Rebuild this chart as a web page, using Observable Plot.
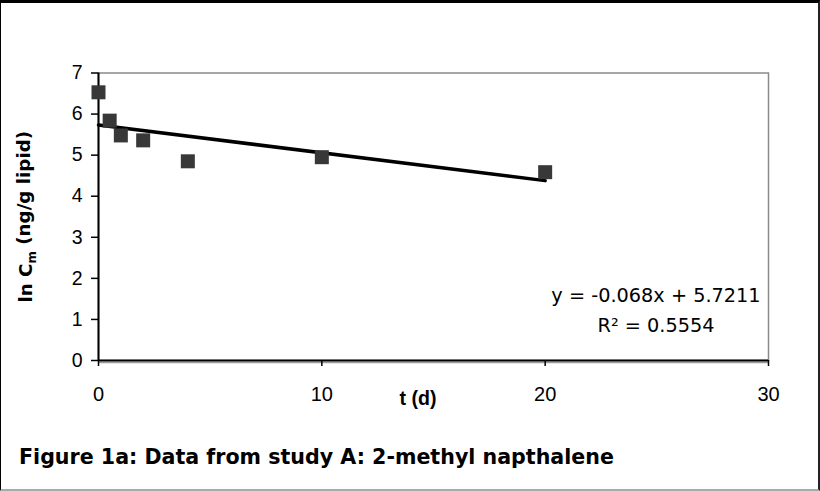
<!DOCTYPE html>
<html><head><meta charset="utf-8">
<script src="https://cdn.jsdelivr.net/npm/d3@7"></script>
<script src="https://cdn.jsdelivr.net/npm/@observablehq/plot@0.6"></script>
<style>
html,body{margin:0;padding:0;background:#fff;}
#wrap{position:relative;width:820px;height:491px;overflow:hidden;background:#fff;}
#frame{position:absolute;left:0;top:0;width:820px;height:491px;box-sizing:border-box;border-top:3px solid #000;border-left:1px solid #000;border-right:2px solid #222;border-bottom:2px solid #aaa;pointer-events:none;}
#chart{position:absolute;left:0;top:0;}
#caption{position:absolute;left:19px;top:447px;font-family:"DejaVu Sans";font-weight:bold;font-size:20.6px;line-height:1;white-space:nowrap;color:#000;}
</style></head>
<body><div id="wrap"><div id="chart"></div><div id="caption"></div><div id="frame"></div></div>
<script>
const days = [0, 0.5, 1, 2, 4, 10, 20];
const lnCm = [6.53, 5.84, 5.48, 5.36, 4.85, 4.95, 4.585];
const xTicks = [0, 10, 20, 30];
const yTicks = [0, 1, 2, 3, 4, 5, 6, 7];
const xLabel = "t (d)";
const yLabel = "ln Cm (ng/g lipid)";
const equationText = "y = -0.068x + 5.7211";
const r2Text = "R\u00B2 = 0.5554";
const captionText = "Figure 1a: Data from study A: 2-methyl napthalene";

const points = days.map((t, i) => ({t, v: lnCm[i]}));

const plot = Plot.plot({
  width: 820,
  height: 430,
  marginLeft: 98,
  marginRight: 52,
  marginTop: 72.5,
  marginBottom: 70,
  style: {background: "transparent", overflow: "visible", color: "#000"},
  x: {domain: [0, 30]},
  y: {domain: [0, 7]},
  marks: [
    Plot.frame({stroke: "#8a8a8a", strokeWidth: 1.5}),
    Plot.ruleY([0], {stroke: "#9a9a9a", strokeWidth: 1.5, dy: 2}),
    Plot.ruleY([0], {stroke: "#000", strokeWidth: 2}),
    Plot.ruleX([0], {stroke: "#000", strokeWidth: 2}),
    Plot.axisX({ticks: xTicks, tickSize: 6, tickPadding: 20, tickFormat: d => String(d), stroke: "#000", strokeWidth: 1.5, fontSize: 20, fontFamily: "Liberation Sans", label: null}),
    Plot.axisY({ticks: yTicks, tickSize: 7, tickPadding: 9, tickFormat: d => String(d), stroke: "#000", strokeWidth: 1.5, fontSize: 19.5, fontFamily: "Liberation Sans", label: null}),
    Plot.linearRegressionY(points, {x: "t", y: "v", ci: 0, stroke: "#000", strokeWidth: 3.5}),
    Plot.dot(points, {x: "t", y: "v", symbol: "square", r: 7.9, fill: "#383838", stroke: "none"}),
    Plot.text([equationText], {frameAnchor: "bottom-right", textAnchor: "middle", dx: -112.5, dy: -59, fontSize: 19.3, fontFamily: "DejaVu Sans", fill: "#000"}),
    Plot.text([r2Text], {frameAnchor: "bottom-right", textAnchor: "middle", dx: -112.5, dy: -29, fontSize: 19.3, fontFamily: "DejaVu Sans", fill: "#000"}),
    Plot.text([xLabel], {frameAnchor: "bottom", textAnchor: "middle", dx: -15.5, dy: 44, fontSize: 19.6, fontWeight: "bold", fontFamily: "Liberation Sans", fill: "#000"}),
    Plot.text([yLabel], {frameAnchor: "left", textAnchor: "middle", lineAnchor: "middle", rotate: -90, dx: -72, fontSize: 18.3, fontWeight: "bold", fontFamily: "DejaVu Sans", fill: "#000"})
  ]
});
document.getElementById("chart").appendChild(plot);

// subscript m in the y label
d3.select(plot).selectAll("text").each(function() {
  const el = d3.select(this);
  if (el.text() === yLabel) {
    el.text(null);
    el.append("tspan").text("ln C");
    el.append("tspan").attr("font-size", "0.65em").attr("dy", "0.3em").text("m");
    el.append("tspan").attr("dy", "-0.3em").text(" (ng/g lipid)");
  }
});
document.getElementById("caption").textContent = captionText;
</script>
</body></html>
